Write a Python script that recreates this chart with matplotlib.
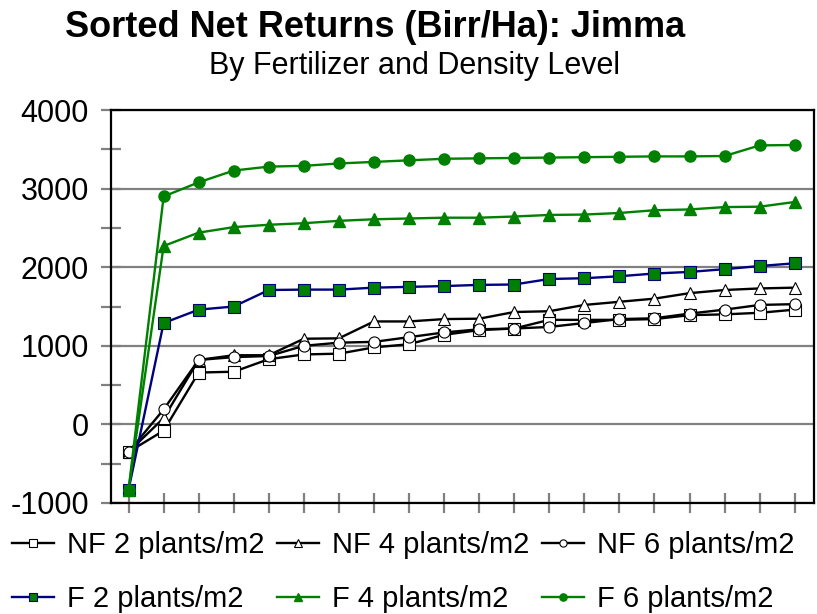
import numpy as np
import matplotlib
matplotlib.use('Agg')
import matplotlib.pyplot as plt
from matplotlib.ticker import MultipleLocator, NullFormatter

plt.rcParams['font.family'] = ['Liberation Sans', 'DejaVu Sans']
plt.rcParams['axes.unicode_minus'] = False

# sorted net returns (Birr/Ha), 20 ranked observations per treatment
nf2 = [-350, -80, 660, 670, 830, 890, 900, 980, 1020, 1140,
       1200, 1220, 1330, 1330, 1330, 1340, 1390, 1400, 1420, 1460]
nf4 = [-350, 80, 820, 880, 880, 1090, 1095, 1310, 1310, 1340,
       1345, 1430, 1440, 1520, 1560, 1600, 1670, 1710, 1730, 1740]
nf6 = [-350, 190, 820, 856, 870, 1000, 1040, 1050, 1110, 1170,
       1210, 1220, 1240, 1290, 1340, 1350, 1410, 1460, 1520, 1530]
f2 = [-830, 1290, 1460, 1500, 1710, 1715, 1715, 1740, 1750, 1760,
      1775, 1780, 1850, 1860, 1885, 1920, 1940, 1975, 2015, 2050]
f4 = [-830, 2270, 2440, 2510, 2540, 2560, 2590, 2610, 2620, 2630,
      2630, 2645, 2665, 2670, 2690, 2725, 2735, 2765, 2770, 2830]
f6 = [-830, 2900, 3080, 3230, 3280, 3290, 3320, 3340, 3360, 3380,
      3385, 3390, 3395, 3400, 3405, 3410, 3410, 3415, 3550, 3555]

labels = ['NF 2 plants/m2', 'NF 4 plants/m2', 'NF 6 plants/m2',
          'F 2 plants/m2', 'F 4 plants/m2', 'F 6 plants/m2']

x = np.arange(len(nf2))

fig = plt.figure(figsize=(8.17, 6.14), dpi=100)
ax = fig.add_axes([0.1359, 0.1808, 0.8604, 0.64])

green = '#008000'
navy = '#000080'
nf_kw = dict(color='black', lw=1.7, mfc='white', mec='black', mew=0.8, ms=8)
lines = []
lines += ax.plot(x, nf2, marker='s', label=labels[0], **nf_kw)
lines += ax.plot(x, nf4, marker='^', label=labels[1], **nf_kw)
lines += ax.plot(x, nf6, marker='o', label=labels[2], **nf_kw)
lines += ax.plot(x, f2, marker='s', color=navy, lw=1.7, mfc=green, mec=navy, mew=0.8, ms=8, label=labels[3])
lines += ax.plot(x, f4, marker='^', color=green, lw=1.7, mfc=green, mec=green, ms=8, label=labels[4])
lines += ax.plot(x, f6, marker='o', color=green, lw=1.7, mfc=green, mec=green, ms=8, label=labels[5])

ax.set_xlim(-0.5, 19.55)
ax.set_ylim(-1000, 4000)
ax.set_xticks(x)
ax.xaxis.set_major_formatter(NullFormatter())
ax.yaxis.set_major_locator(MultipleLocator(1000))
ax.yaxis.set_minor_locator(MultipleLocator(500))
ax.tick_params(axis='y', which='both', direction='inout', length=14, width=1.6,
               color='#808080', labelsize=22, pad=9)
ax.tick_params(axis='x', direction='inout', length=14, width=1.6, color='#808080')
ax.grid(axis='y', which='major', color='#808080', lw=1.6)
ax.set_axisbelow(True)
for s in ax.spines.values():
    s.set_color('black')
    s.set_linewidth(1.6)

fig.text(0.459, 0.956, 'Sorted Net Returns (Birr/Ha): Jimma', ha='center', va='center',
         fontsize=26, fontweight='bold')
fig.text(0.507, 0.892, 'By Fertilizer and Density Level', ha='center', va='center', fontsize=22)

# legend filled row by row: NF series on top, F series below
order = [0, 3, 1, 4, 2, 5]
fig.legend([lines[i] for i in order], [labels[i] for i in order],
           loc='center left', bbox_to_anchor=(0.0, 0.068), ncol=3, frameon=False, fontsize=21,
           handlelength=1.45, handletextpad=0.45, columnspacing=0.42, labelspacing=0.88,
           markerscale=0.65, borderaxespad=0.0)

fig.savefig('out.png', dpi=100)
